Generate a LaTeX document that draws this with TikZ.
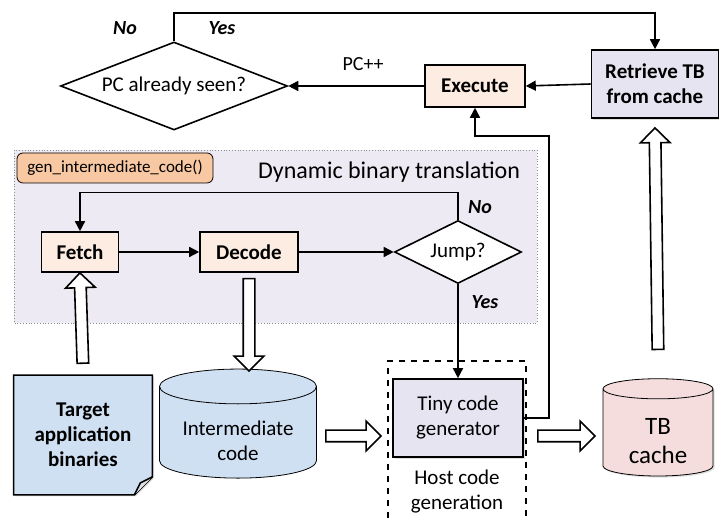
\documentclass[tikz,border=0pt]{standalone}
\usepackage{fontspec}
\setmainfont{Carlito}
\usepackage{tikz}
\usetikzlibrary{shapes.geometric,shapes.arrows,arrows.meta,positioning,calc,backgrounds,shadows}
\definecolor{pessego}{RGB}{252,236,226}
\definecolor{laranja}{RGB}{248,200,162}
\definecolor{lilas}{RGB}{230,228,240}
\definecolor{fundo}{RGB}{238,234,243}
\definecolor{azulclaro}{RGB}{208,224,243}
\definecolor{rosa}{RGB}{245,221,221}

% seta larga e vazada entre dois pontos
\newcommand{\setagrossa}[2]{%
	\path let \p1=($(#2)-(#1)$), \n1={veclen(\x1,\y1)}, \n2={atan2(\y1,\x1)} in
		($(#1)!0.5!(#2)$) node[grossa, minimum height=\n1, rotate=\n2] {};}

\begin{document}
\begin{tikzpicture}[
	x=0.5pt, y=-0.5pt,
	font=\fontsize{10.5}{12.5}\selectfont,
	>={Triangle[length=5pt,width=5pt]},
	caixa/.style={rectangle, draw, thick, fill=pessego, align=center, inner sep=2pt, font=\bfseries\fontsize{10.5}{12.5}\selectfont},
	losango/.style={diamond, draw, thick, fill=white, inner sep=0pt, aspect=2.5},
	cilindro/.style={cylinder, shape border rotate=90, draw, aspect=0.28, align=center},
	rotulo/.style={font=\bfseries\itshape\fontsize{10}{12}\selectfont},
	sombra/.style={drop shadow={opacity=0.25, shadow xshift=0.8pt, shadow yshift=-0.8pt}},
	grossa/.style={single arrow, draw, thick, fill=white, inner sep=2.5pt, single arrow head extend=4.5pt, single arrow tip angle=90},
	seta/.style={->, thick},
]
\useasboundingbox (0,0) rectangle (719,522);

% laco de execucao
\node[losango, minimum width=113.5pt, minimum height=44pt] (visto) at (174,86) {PC already seen?};
\node[caixa, minimum width=50pt, minimum height=21pt] (exec) at (475,86) {Execute};
\node[caixa, fill=lilas, sombra, minimum width=63.5pt, minimum height=34pt] (busca) at (655,84) {Retrieve TB\\from cache};

% traducao binaria dinamica
\node[caixa, minimum width=38.5pt, minimum height=20pt] (fetch) at (80,252) {Fetch};
\node[caixa, minimum width=49pt, minimum height=20pt] (decode) at (249,252) {Decode};
\node[losango, minimum width=63.5pt, minimum height=31.5pt] (salto) at (458,252) {Jump?};
\node[rectangle, rounded corners=3pt, draw, fill=laranja, minimum width=98pt, minimum height=15pt, inner sep=1pt, font=\fontsize{8.5}{10}\selectfont] (gen) at (115,168) {gen\_intermediate\_code()};
\node[anchor=east, font=\fontsize{12}{14}\selectfont] (titulo) at (527,172) {Dynamic binary translation};

% geracao de codigo
\node[caixa, fill=lilas, sombra, font=\fontsize{10.5}{12.5}\selectfont, minimum width=65pt, minimum height=39pt] (tiny) at (458,418) {Tiny code\\generator};
\node[align=center] (hostlbl) at (457,492) {Host code\\generation};

% dados
\node[align=center, minimum width=69pt, minimum height=59.5pt, font=\bfseries\fontsize{10.5}{12.5}\selectfont] (alvo) at (83,435) {Target\\application\\binaries};
\node[cilindro, fill=azulclaro, minimum width=78.5pt, minimum height=49pt] (inter) at (238,436) {\\Intermediate\\code};
\node[cilindro, fill=rosa, sombra, minimum width=55pt, minimum height=48pt, font=\fontsize{12.5}{14.5}\selectfont] (cache) at (658,435) {\\TB\\cache};

\begin{scope}[on background layer]
	\draw[black!45, densely dotted, fill=fundo] (14,150) rectangle (537,323);
	\draw[thick, dashed] (388,530) -- (388,361) -- (526,361) -- (526,530);
	\draw[thick, fill=azulclaro, drop shadow={opacity=0.25, shadow xshift=0.8pt, shadow yshift=-0.8pt}] (alvo.north west) -- (alvo.north east) -- ([yshift=9pt]alvo.south east) -- ([xshift=-9pt]alvo.south east) -- (alvo.south west) -- cycle;
	\draw[thick, fill=azulclaro!70!black!30] ([yshift=9pt]alvo.south east) -- ([xshift=-6pt,yshift=6pt]alvo.south east) -- ([xshift=-9pt]alvo.south east);
\end{scope}

% conectores
\draw[seta] (visto.north) -- ++(0,-28) -| (busca.north);
\draw[seta] (busca.west) -- (exec.east);
\draw[seta] (exec.west) -- node[above=4pt, pos=0.45, font=\fontsize{10}{12}\selectfont] (pcmais) {PC++} (visto.east);
\draw[seta] (tiny.east) -- ++(25,0) |- ([yshift=-14pt]exec.south) -- (exec.south);
\draw[seta] (salto.north) -- ++(0,-27) -| (fetch.north);
\draw[seta] (fetch.east) -- (decode.west);
\draw[seta] (decode.east) -- (salto.west);
\draw[seta] (salto.south) -- (tiny.north);

\node[rotulo] (nao1) at (125,28) {No};
\node[rotulo] (sim1) at (222,28) {Yes};
\node[rotulo] (nao2) at (480,207) {No};
\node[rotulo] (sim2) at (485,302) {Yes};

% setas largas
\coordinate (g1a) at ([yshift=4.5pt]alvo.north);
\coordinate (g1b) at ([yshift=-1.5pt]fetch.south);
\coordinate (g2a) at ([yshift=-1.5pt]decode.south);
\coordinate (g2b) at (decode.south |- 0,368);
\coordinate (g3a) at (323,436);
\coordinate (g3b) at (378,436);
\coordinate (g4a) at (535,436);
\coordinate (g4b) at (592,436);
\coordinate (g5a) at ([yshift=13pt]cache.north);
\coordinate (g5b) at ([yshift=-6pt]busca.south);
\setagrossa{g1a}{g1b}
\setagrossa{g2a}{g2b}
\setagrossa{g3a}{g3b}
\setagrossa{g4a}{g4b}
\setagrossa{g5a}{g5b}
\end{tikzpicture}
\end{document}
